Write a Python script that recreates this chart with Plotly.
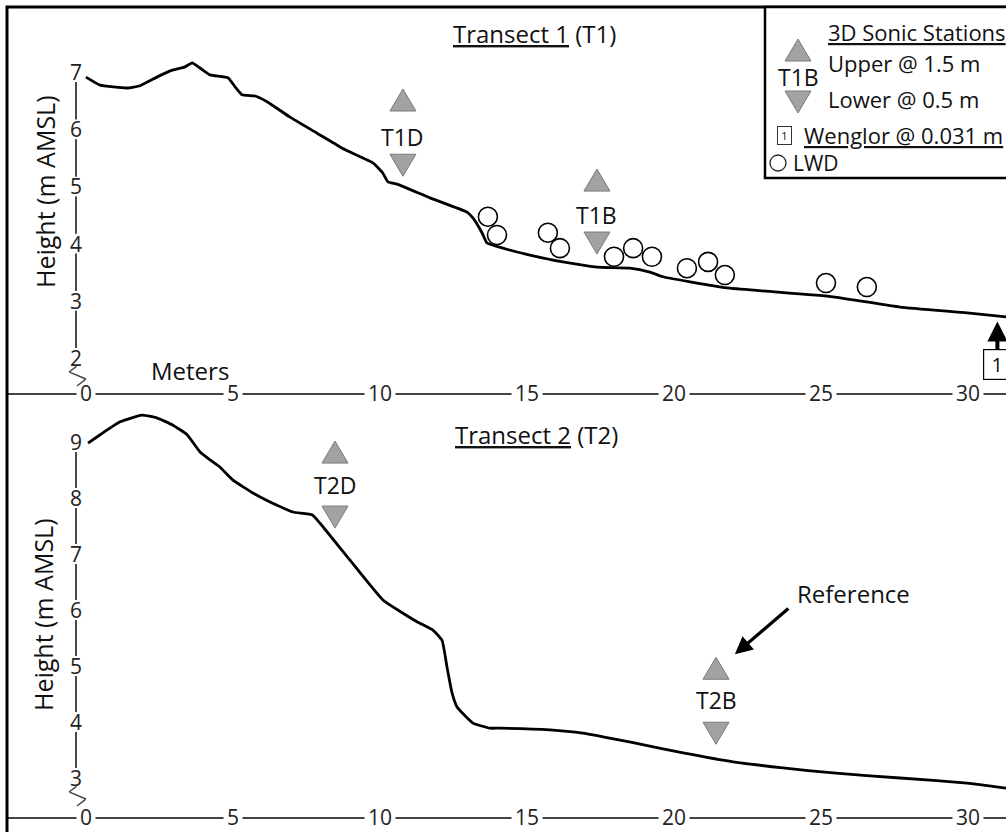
import plotly.graph_objects as go

W, H = 1006, 832
FONT = "Open Sans"

# ---- Transect 1 ground profile (distance along transect in m, elevation in m AMSL)
t1_dist = [0.0, 0.48, 1.39, 1.84, 2.41, 2.86, 3.37, 3.61, 3.88, 4.22, 4.83, 5.07, 5.31,
           5.75, 6.16, 6.94, 7.86, 8.64, 8.98, 9.76, 10.10, 10.27, 10.58, 11.70, 12.96,
           13.16, 13.47, 13.64, 14.18, 15.10, 16.22, 17.38, 18.50, 19.18, 19.63, 20.78,
           21.90, 25.41, 27.69, 29.97, 31.3]
t1_elev = [6.91, 6.77, 6.72, 6.76, 6.91, 7.02, 7.09, 7.16, 7.07, 6.95, 6.90, 6.74, 6.60,
           6.58, 6.48, 6.21, 5.93, 5.69, 5.60, 5.41, 5.23, 5.08, 5.04, 4.80, 4.55,
           4.45, 4.19, 4.01, 3.92, 3.80, 3.68, 3.59, 3.57, 3.50, 3.42, 3.31,
           3.22, 3.07, 2.89, 2.79, 2.72]

# Large woody debris (LWD) on transect 1
lwd_dist = [13.67, 13.98, 15.71, 16.12, 17.96, 18.61, 19.25, 20.44, 21.16, 21.73, 25.17, 26.56]
lwd_elev = [4.47, 4.15, 4.19, 3.92, 3.77, 3.92, 3.77, 3.57, 3.68, 3.45, 3.31, 3.24]

# 3D sonic stations on transect 1 (upper / lower symbols and label heights)
t1_station_names = ["T1D", "T1B"]
t1_station_x = [10.78, 17.38]
t1_upper_y = [6.51, 5.11]
t1_label_y = [5.86, 4.50]
t1_lower_y = [5.37, 4.01]

# Wenglor sensor on transect 1
wenglor_x = [31.0]
wenglor_y = [2.64]
wenglor_ids = ["1"]

# ---- Transect 2 ground profile
t2_dist = [0.07, 0.48, 1.16, 1.90, 2.41, 2.96, 3.44, 3.88, 4.22, 4.56, 5.0, 5.68, 6.50,
           7.04, 7.69, 7.96, 8.98, 10.10, 11.26, 11.80, 12.11, 12.28, 12.45, 12.62,
           13.16, 13.74, 14.08, 15.78, 16.90, 18.61, 20.31, 22.01, 23.71, 25.41,
           27.69, 29.97, 31.3]
t2_elev = [8.98, 9.13, 9.36, 9.48, 9.43, 9.30, 9.13, 8.82, 8.68, 8.55, 8.32, 8.09, 7.87,
           7.75, 7.70, 7.55, 6.89, 6.18, 5.79, 5.64, 5.46, 4.98, 4.52, 4.27,
           3.98, 3.89, 3.89, 3.86, 3.80, 3.63, 3.45, 3.29, 3.18, 3.09,
           3.00, 2.91, 2.82]

t2_station_names = ["T2D", "T2B"]
t2_station_x = [8.47, 21.43]
t2_upper_y = [8.82, 4.96]
t2_label_y = [8.23, 4.39]
t2_lower_y = [7.66, 3.80]

# Reference station pointer (arrow tip) and its label
reference_tip = [22.07, 5.21]
reference_text_pos = [26.09, 6.30]

# ---- Tick labels
x_ticks = [0, 5, 10, 15, 20, 25, 30]
t1_y_ticks = [2, 3, 4, 5, 6, 7]
t2_y_ticks = [3, 4, 5, 6, 7, 8, 9]

# ---- Axis geometry
X_RANGE = [-2.653, 31.293]
Y1_RANGE = [1.388, 8.136]
Y2_RANGE = [2.304, 9.875]
PX_PER_M_X = 29.4
PX_PER_M_Y1 = 57.2
PX_PER_M_Y2 = 56.0
AXIS_COLOR = "#444"
Y_AXIS_X = X_RANGE[0] + (76 - 8) / PX_PER_M_X   # x of the drawn height axes


def fx(p):
    return p / W


def fy(p):
    return 1 - p / H


def tri_path(up, w=26, h=22):
    if up:
        return f"M{-w/2},{-h/2} L{w/2},{-h/2} L0,{h/2} Z"
    return f"M{-w/2},{h/2} L{w/2},{h/2} L0,{-h/2} Z"


TRI_FILL = "#a2a2a2"
TRI_LINE = "#7a7a7a"

fig = go.Figure()
shapes = []
annotations = []
axis_strokes = []      # drawn last so nothing sits on top of them

# Ground profiles
fig.add_trace(go.Scatter(x=t1_dist, y=t1_elev, mode="lines", xaxis="x", yaxis="y",
                         line=dict(color="black", width=2.8, shape="spline", smoothing=0.4),
                         hoverinfo="skip", showlegend=False))
fig.add_trace(go.Scatter(x=t2_dist, y=t2_elev, mode="lines", xaxis="x2", yaxis="y2",
                         line=dict(color="black", width=2.8, shape="spline", smoothing=0.4),
                         hoverinfo="skip", showlegend=False))

# LWD circles
fig.add_trace(go.Scatter(x=lwd_dist, y=lwd_elev, mode="markers", xaxis="x", yaxis="y",
                         marker=dict(symbol="circle", size=19, color="white",
                                     line=dict(color="black", width=1.6)),
                         hoverinfo="skip", showlegend=False))


def stroke(x_from, y_from, x_to, y_to, xr, yr):
    axis_strokes.append(dict(text="", x=x_to, y=y_to, ax=x_from, ay=y_from,
                             xref=xr, yref=yr, axref=xr, ayref=yr, showarrow=True,
                             arrowhead=0, arrowwidth=1.4, arrowcolor=AXIS_COLOR,
                             standoff=0, startstandoff=0, borderpad=0))


def height_axis(ticks, xr, yr, px_per_m_y, y_range, top_px):
    """Height axis: segments between tick labels, then a zig-zag break."""
    x0 = Y_AXIS_X
    gap = 10 / px_per_m_y
    seg_x, seg_y = [], []
    for lo, hi in zip(ticks[:-1], ticks[1:]):
        stroke(x0, hi - gap, x0, lo + gap, xr, yr)
        seg_x += [x0, x0, None]
        seg_y += [hi - gap, lo + gap, None]
        # same segment as a paper-referenced line
        shapes.append(dict(type="line", xref="paper", yref="paper",
                           x0=fx(76), x1=fx(76),
                           y0=fy(top_px + (y_range[1] - (hi - gap)) * px_per_m_y),
                           y1=fy(top_px + (y_range[1] - (lo + gap)) * px_per_m_y),
                           line=dict(color=AXIS_COLOR, width=1.4), layer="above"))
    fig.add_trace(go.Scatter(x=seg_x, y=seg_y, mode="lines", xaxis=xr, yaxis=yr,
                             line=dict(color=AXIS_COLOR, width=1.4),
                             hoverinfo="skip", showlegend=False))
    bot = ticks[0]
    pts = [(x0 + dx / PX_PER_M_X, bot - dy / px_per_m_y)
           for dx, dy in ((1, 8), (-7, 14), (10, 21), (1, 28))]
    for (xa, ya), (xb, yb) in zip(pts[:-1], pts[1:]):
        stroke(xa, ya, xb, yb, xr, yr)
    for t in ticks:
        annotations.append(dict(text=str(t), x=x0, y=t, xref=xr, yref=yr,
                                showarrow=False, xanchor="center", yanchor="middle",
                                font=dict(family=FONT, size=21, color="#222")))


height_axis(t1_y_ticks, "x", "y", PX_PER_M_Y1, Y1_RANGE, 7)
height_axis(t2_y_ticks, "x2", "y2", PX_PER_M_Y2, Y2_RANGE, 393)


def station_shapes(xs, ups, downs, xr, yr):
    for x, yu, yd in zip(xs, ups, downs):
        for yv, up in ((yu, True), (yd, False)):
            shapes.append(dict(type="path", xref=xr, yref=yr, xsizemode="pixel",
                               ysizemode="pixel", xanchor=x, yanchor=yv,
                               path=tri_path(up), fillcolor=TRI_FILL,
                               line=dict(color=TRI_LINE, width=1), layer="above"))


def station_labels(names, xs, ys, xr, yr):
    for n, x, y in zip(names, xs, ys):
        annotations.append(dict(text=n, x=x, y=y, xref=xr, yref=yr, showarrow=False,
                                xanchor="center", yanchor="middle",
                                font=dict(family=FONT, size=23, color="#111")))


station_shapes(t1_station_x, t1_upper_y, t1_lower_y, "x", "y")
station_shapes(t2_station_x, t2_upper_y, t2_lower_y, "x2", "y2")
station_labels(t1_station_names, t1_station_x, t1_label_y, "x", "y")
station_labels(t2_station_names, t2_station_x, t2_label_y, "x2", "y2")


def distance_labels(ticks, xr, yr, ymin):
    for t in ticks:
        annotations.append(dict(text=str(t), x=t, y=ymin, xref=xr, yref=yr,
                                showarrow=False, xanchor="center", yanchor="middle",
                                bgcolor="white", borderpad=3,
                                font=dict(family=FONT, size=21, color="#222")))


distance_labels(x_ticks, "x", "y", Y1_RANGE[0])
distance_labels(x_ticks, "x2", "y2", Y2_RANGE[0])

# Outer frame
shapes.append(dict(type="rect", xref="paper", yref="paper", x0=fx(7), x1=1.02,
                   y0=-0.03, y1=fy(7), line=dict(color="black", width=3),
                   fillcolor="rgba(0,0,0,0)", layer="above"))

# Legend box
shapes.append(dict(type="rect", xref="paper", yref="paper", x0=fx(765), x1=1.02,
                   y0=fy(178), y1=fy(7), line=dict(color="black", width=2.5),
                   fillcolor="white", layer="above"))
for yy, up in ((50, True), (102, False)):
    shapes.append(dict(type="path", xref="paper", yref="paper", xsizemode="pixel",
                       ysizemode="pixel", xanchor=fx(798), yanchor=fy(yy),
                       path=tri_path(up), fillcolor=TRI_FILL,
                       line=dict(color=TRI_LINE, width=1), layer="above"))
shapes.append(dict(type="circle", xref="paper", yref="paper", xsizemode="pixel",
                   ysizemode="pixel", xanchor=fx(778), yanchor=fy(163),
                   x0=-8, x1=8, y0=-8, y1=8, line=dict(color="#222", width=1.3),
                   fillcolor="white", layer="above"))


def text(t, x, y, size, anchor="center", angle=0, color="#111"):
    annotations.append(dict(text=t, x=fx(x), y=fy(y), xref="paper", yref="paper",
                            showarrow=False, xanchor=anchor, yanchor="middle",
                            textangle=angle, font=dict(family=FONT, size=size, color=color)))


text("<u>3D Sonic Stations</u>", 826, 32, 22, "left")
text("T1B", 798, 77, 23)
text("Upper @ 1.5 m", 826, 63, 22, "left")
text("Lower @ 0.5 m", 826, 99, 22, "left")
text("<u>Wenglor @ 0.031 m</u>", 802, 135, 22, "left")
text("LWD", 791, 163, 21, "left")
annotations.append(dict(text="1", x=fx(784), y=fy(136), xref="paper", yref="paper",
                        showarrow=False, xanchor="center", yanchor="middle",
                        bordercolor="#333", borderwidth=1, borderpad=1, width=11,
                        font=dict(family=FONT, size=11, color="#111")))

# Panel titles and axis titles
text("<u>Transect 1</u> (T1)", 534, 33, 24)
text("<u>Transect 2</u> (T2)", 536, 434, 24)
text("Height (m AMSL)", 45, 192, 25, angle=-90)
text("Height (m AMSL)", 43, 615, 25, angle=-90)
text("Meters", 190, 370, 24)

# Wenglor sensor marker with arrow
for x, y, lab in zip(wenglor_x, wenglor_y, wenglor_ids):
    annotations.append(dict(text=lab, x=x, y=y, xref="x", yref="y", showarrow=True,
                            ax=0, ay=43, arrowhead=2, arrowsize=1, arrowwidth=4,
                            arrowcolor="black", bordercolor="black", borderwidth=1.2,
                            borderpad=1, bgcolor="white", width=24,
                            font=dict(family=FONT, size=20, color="#111")))

# Reference pointer
annotations.append(dict(text="", x=reference_tip[0], y=reference_tip[1], xref="x2",
                        yref="y2", showarrow=True, ax=55, ay=-47, arrowhead=2,
                        arrowsize=1.1, arrowwidth=3.2, arrowcolor="black"))
annotations.append(dict(text="Reference", x=reference_text_pos[0], y=reference_text_pos[1],
                        xref="x2", yref="y2", showarrow=False, xanchor="center",
                        yanchor="middle", font=dict(family=FONT, size=24, color="#111")))

axis_common = dict(range=X_RANGE, showgrid=False, zeroline=False, showticklabels=False,
                   ticks="", showline=True, linecolor=AXIS_COLOR, linewidth=1.5,
                   domain=[fx(8), 1])
yaxis_common = dict(showgrid=False, zeroline=False, showticklabels=False, ticks="",
                    showline=False)

fig.update_layout(
    width=W, height=H,
    margin=dict(l=0, r=0, t=0, b=0),
    paper_bgcolor="white", plot_bgcolor="white",
    showlegend=False,
    xaxis=dict(**axis_common, anchor="y"),
    yaxis=dict(**yaxis_common, range=Y1_RANGE, domain=[fy(393), fy(7)], anchor="x"),
    xaxis2=dict(**axis_common, anchor="y2"),
    yaxis2=dict(**yaxis_common, range=Y2_RANGE, domain=[fy(817), fy(393)], anchor="x2"),
    shapes=shapes,
    annotations=annotations + axis_strokes,
    font=dict(family=FONT),
)

fig.write_html("out.html")
